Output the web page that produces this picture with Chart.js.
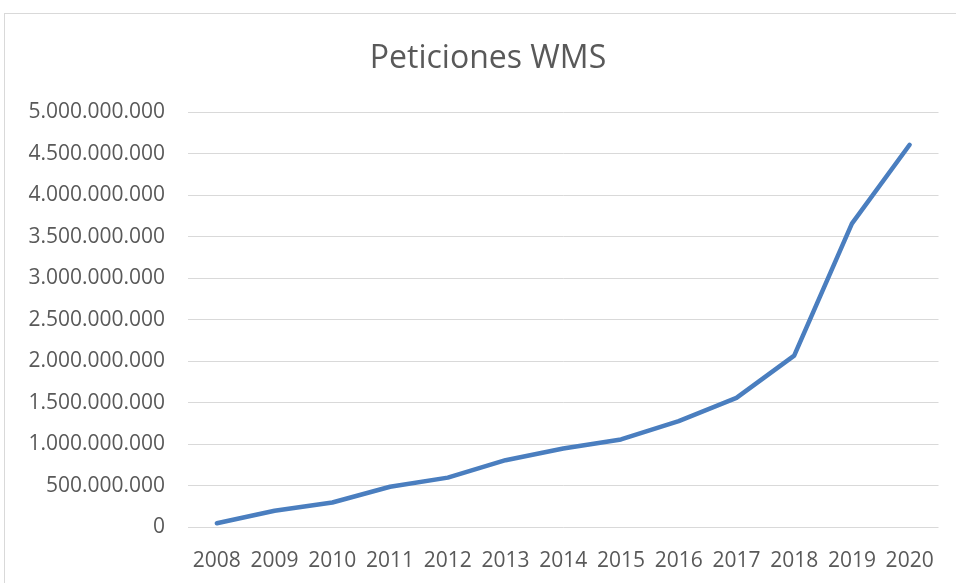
<!DOCTYPE html>
<html>
<head>
<meta charset="utf-8">
<script src="https://cdn.jsdelivr.net/npm/chart.js@4/dist/chart.umd.min.js"></script>
<style>
    html, body { margin: 0; padding: 0; background: #fff; overflow: hidden; }
    #frame { position: absolute; left: 4px; top: 13px; width: 1000px; height: 1000px; border: 1px solid #d9d9d9; }
    #chart { position: absolute; left: 0; top: 0; }
</style>
</head>
<body>
<div id="frame"></div>
<canvas id="chart" width="956" height="583"></canvas>
<script>
// Peticiones WMS por año
const years = ['2008', '2009', '2010', '2011', '2012', '2013', '2014', '2015', '2016', '2017', '2018', '2019', '2020'];
const requests = [50000000, 200000000, 300000000, 490000000, 600000000, 810000000, 950000000,
                  1060000000, 1280000000, 1560000000, 2070000000, 3660000000, 4610000000];
const yTicks = [0, 500000000, 1000000000, 1500000000, 2000000000, 2500000000,
                3000000000, 3500000000, 4000000000, 4500000000, 5000000000];
const chartTitle = 'Peticiones WMS';

const TEXT = '#595959';
const GRID = '#d9d9d9';
const FONT = "'Open Sans', 'Liberation Sans', sans-serif";

function fmtDots(v) {
    return String(Math.round(v)).replace(/\B(?=(\d{3})+(?!\d))/g, '.');
}

// title centred over the whole chart frame (like Excel), not just the plot box
const frameTitle = {
    id: 'frameTitle',
    afterDraw(chart) {
        const ctx = chart.ctx;
        ctx.save();
        ctx.font = '32px ' + FONT;
        ctx.fillStyle = TEXT;
        ctx.textAlign = 'center';
        ctx.textBaseline = 'alphabetic';
        ctx.fillText(chartTitle, 488, 67.5);
        ctx.restore();
    }
};

new Chart(document.getElementById('chart'), {
    type: 'line',
    data: {
        labels: years,
        datasets: [{
            label: chartTitle,
            data: requests,
            borderColor: '#4a7ebf',
            borderWidth: 4.5,
            borderCapStyle: 'round',
            borderJoinStyle: 'round',
            tension: 0,
            pointRadius: 0,
            fill: false
        }]
    },
    plugins: [frameTitle],
    options: {
        responsive: false,
        animation: false,
        layout: { padding: { left: 0, right: 17.5, top: 112.4, bottom: 0 } },
        plugins: {
            legend: { display: false },
            tooltip: { enabled: false },
            title: { display: false }
        },
        scales: {
            x: {
                offset: true,
                grid: { display: false },
                border: { display: false },
                ticks: { color: TEXT, font: { family: FONT, size: 21 }, padding: 13, maxRotation: 0, autoSkip: false },
                afterFit: function(scale) { scale.height = 55.6; }
            },
            y: {
                min: 0,
                max: 5000000000,
                afterBuildTicks: function(scale) {
                    scale.ticks = yTicks.map(v => ({ value: v }));
                },
                grid: { color: GRID, lineWidth: 1, drawTicks: false },
                border: { display: false },
                ticks: {
                    color: TEXT,
                    font: { family: FONT, size: 21 },
                    padding: 23,
                    callback: function(v) { return fmtDots(v); }
                },
                afterFit: function(scale) { scale.width = 188; }
            }
        }
    }
});
</script>
</body>
</html>
